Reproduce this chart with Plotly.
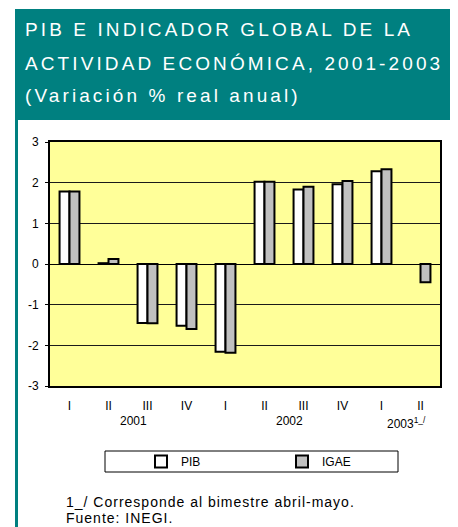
import plotly.graph_objects as go

# ---------------- data ----------------
quarters = ["I", "II", "III", "IV", "I", "II", "III", "IV", "I", "II"]
years = ["2001", "2002", "2003<sup>1_/</sup>"]
year_centers = [1.5, 5.5, 8.5]
pib = [1.78, 0.02, -1.45, -1.52, -2.16, 2.02, 1.83, 1.96, 2.28, None]
igae = [1.78, 0.12, -1.46, -1.60, -2.18, 2.02, 1.90, 2.04, 2.33, -0.45]
y_ticks = [-3, -2, -1, 0, 1, 2, 3]
y_tick_labels = ["-3", "-2", "-1", "0", "1", "2", "3"]
title_lines = ["PIB E INDICADOR GLOBAL DE LA",
               "ACTIVIDAD ECONÓMICA, 2001-2003",
               "(Variación % real anual)"]
notes = ["1_/ Corresponde al bimestre abril-mayo.", "Fuente: INEGI."]

# page body has an 8px default margin: lay out in page pixels, offset by it
OFF = 8
PAGE_W, PAGE_H = 458, 527
W, H = PAGE_W - OFF, PAGE_H - OFF
PLOT_X0, PLOT_X1, PLOT_Y0, PLOT_Y1 = 50, 440, 142, 386   # page pixels
L, R = PLOT_X0 - OFF, PAGE_W - PLOT_X1
T, B = PLOT_Y0 - OFF, PAGE_H - PLOT_Y1
PW, PH = PLOT_X1 - PLOT_X0, PLOT_Y1 - PLOT_Y0


def px_x(x):
    return (x - PLOT_X0) / PW


def px_y(y):
    return (PLOT_Y1 - y) / PH


FONT = "Liberation Sans, Arial, sans-serif"
idx = list(range(len(quarters)))

fig = go.Figure()
fig.add_trace(go.Bar(x=idx, y=pib, name="PIB",
                     marker=dict(color="white", line=dict(color="black", width=2))))
fig.add_trace(go.Bar(x=idx, y=igae, name="IGAE",
                     marker=dict(color="#C0C0C0", line=dict(color="black", width=2))))

shapes = [
    dict(type="rect", xref="paper", yref="paper", x0=px_x(15), x1=px_x(470),
         y0=px_y(120), y1=px_y(9), fillcolor="#008080", line=dict(width=0), layer="above"),
    dict(type="rect", xref="paper", yref="paper", x0=px_x(15), x1=px_x(18),
         y0=px_y(540), y1=px_y(120), fillcolor="#008080", line=dict(width=0)),
    dict(type="line", xref="paper", yref="paper", x0=px_x(455.5), x1=px_x(455.5),
         y0=px_y(540), y1=px_y(120), line=dict(color="#cfdcdc", width=1)),
    dict(type="rect", xref="paper", yref="paper", x0=px_x(105), x1=px_x(398),
         y0=px_y(472), y1=px_y(451), line=dict(color="black", width=1)),
]

annotations = []
for text, yc in zip(title_lines, [29, 63, 96]):
    annotations.append(dict(
        text=f'<span style="letter-spacing:3.1px">{text}</span>',
        xref="paper", yref="paper", x=px_x(23), y=px_y(yc),
        xanchor="left", yanchor="middle", showarrow=False,
        font=dict(family=FONT, size=19, color="white")))

for i, (yr, xc) in enumerate(zip(years, year_centers)):
    if i < 2:
        annotations.append(dict(text=yr, xref="x", yref="paper", x=xc, y=px_y(421),
                                xanchor="center", yanchor="middle", xshift=5,
                                showarrow=False, font=dict(family=FONT, size=12, color="black")))
    else:
        annotations.append(dict(text=yr, xref="x", yref="paper", x=xc, y=px_y(423),
                                xanchor="left", yanchor="middle", xshift=-16,
                                showarrow=False, font=dict(family=FONT, size=12, color="black")))

for text, yc in zip(notes, [502, 518]):
    annotations.append(dict(
        text=f'<span style="letter-spacing:1px">{text}</span>',
        xref="paper", yref="paper", x=px_x(64), y=px_y(yc),
        xanchor="left", yanchor="middle", showarrow=False,
        font=dict(family=FONT, size=14, color="black")))

fig.update_layout(
    width=W, height=H,
    margin=dict(l=L, r=R, t=T, b=B, pad=0, autoexpand=False),
    paper_bgcolor="white",
    plot_bgcolor="#FFFF99",
    font=dict(family=FONT, size=12, color="black"),
    barmode="group", bargap=0.49, bargroupgap=0,
    showlegend=True,
    legend=dict(orientation="h", x=px_x(141), xanchor="left",
                y=px_y(461.5), yanchor="middle",
                entrywidth=96, entrywidthmode="pixels",
                bgcolor="rgba(0,0,0,0)", borderwidth=0,
                font=dict(family=FONT, size=12, color="black"),
                itemclick=False),
    shapes=shapes,
    annotations=annotations,
    xaxis=dict(range=[-0.5, 9.5], tickmode="array", tickvals=idx, ticktext=quarters,
               showgrid=False, zeroline=False, ticks="", showline=True, mirror=True,
               linecolor="black", linewidth=2, ticklabelstandoff=8,
               tickfont=dict(family=FONT, size=12, color="black")),
    xaxis2=dict(overlaying="x", anchor="free", position=0.5, side="bottom",
                range=[-0.5, 9.5], tickmode="array",
                tickvals=[i + 0.5 for i in idx[:-1]],
                ticks="outside", ticklen=3, tickwidth=1, tickcolor="black",
                showticklabels=False, showgrid=False, zeroline=False, showline=False),
    yaxis=dict(range=[-3, 3], tickmode="array", tickvals=y_ticks, ticktext=y_tick_labels,
               showgrid=True, gridcolor="#1a1a1a", gridwidth=1,
               zeroline=True, zerolinecolor="black", zerolinewidth=1,
               showline=True, mirror=True, linecolor="black", linewidth=2,
               ticks="outside", ticklen=3, tickcolor="black", ticklabelstandoff=4,
               tickfont=dict(family=FONT, size=12, color="black")),
)

fig.write_html("out.html")
